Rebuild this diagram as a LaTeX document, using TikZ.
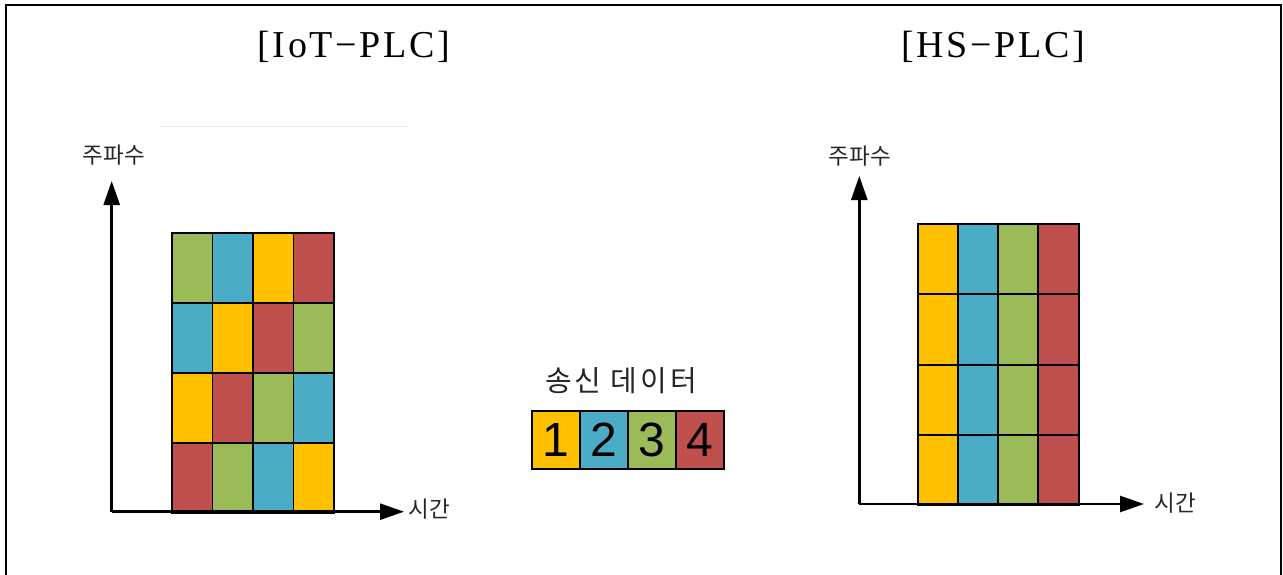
\documentclass[tikz,border=0pt]{standalone}
\usepackage{fontspec}
\setmainfont{Liberation Serif}
\newfontfamily\kr{Noto Sans CJK KR}
\newfontfamily\dig{Liberation Sans}
\usetikzlibrary{arrows.meta}
\definecolor{cy}{HTML}{FFC000}
\definecolor{cb}{HTML}{4BACC6}
\definecolor{cg}{HTML}{9BBB59}
\definecolor{cr}{HTML}{C0504D}
\tikzset{
  cell/.style={draw=black, line width=1.8pt, minimum width=40.5pt, minimum height=70pt, inner sep=0pt, anchor=north west},
  leg/.style={draw=black, line width=1.5pt, minimum width=48pt, minimum height=58pt, inner sep=0pt, anchor=north west, font=\dig\fontsize{48}{48}\selectfont},
  axis/.style={line width=2.6pt, -{Triangle[length=24pt,width=16pt]}},
  ttl/.style={font=\fontsize{38}{38}\selectfont\addfontfeature{LetterSpace=7}},
  axl/.style={font=\kr\fontsize{22.5}{22.5}\selectfont, text=black!85},
}
\begin{document}
\begin{tikzpicture}[x=1pt,y=-1pt]
\useasboundingbox (0,0) rectangle (1283,575);
\fill[white] (0,0) rectangle (1283,575);
% frame
\draw[line width=1.6pt] (6,576) -- (6,5) -- (1281,5) -- (1281,576);
% titles
\node[ttl] (t1) at (354,47) {[IoT−PLC]};
\node[ttl] (t2) at (993,47) {[HS−PLC]};
% faint line
\draw[black!8, line width=1pt] (160,127) -- (407,127);
% left grid
\foreach \r/\a/\b/\c/\d in {0/cg/cb/cy/cr, 1/cb/cy/cr/cg, 2/cy/cr/cg/cb, 3/cr/cg/cb/cy}{
  \foreach \k/\col in {0/\a,1/\b,2/\c,3/\d}{
    \node[cell, fill=\col] (L-\r-\k) at ({171+\k*40.5},{231.7+\r*70}) {};
  }
}
% right grid
\foreach \r in {0,1,2,3}{
  \foreach \k/\col in {0/cy,1/cb,2/cg,3/cr}{
    \node[cell, fill=\col] (R-\r-\k) at ({916.7+\k*40.2},{223.3+\r*70.2}) {};
  }
}
% left axes
\coordinate (LO) at (111.7,511.7);
\coordinate (LY) at (111.7,181);
\coordinate (LX) at (404,511.7);
\draw[axis] (LO) -- (LY);
\draw[axis] (LO) -- (LX);
\node[axl] (lf) at (114,155) {주파수};
\node[axl] (lt) at (429,509) {시간};
% right axes
\coordinate (RO) at (859.3,504);
\coordinate (RY) at (859.3,176);
\coordinate (RX) at (1144,504);
\draw[axis] (RO) -- (RY);
\draw[axis] (RO) -- (RX);
\node[axl] (rf) at (860,156) {주파수};
\node[axl] (rt) at (1175,503) {시간};
% legend
\node[font=\kr\fontsize{29}{29}\selectfont\addfontfeature{LetterSpace=10}, text=black!85] (lg) at (621,381) {송신 데이터};
\node[leg, fill=cy] (g1) at (531,410) {1};
\node[leg, fill=cb] (g2) at (579,410) {2};
\node[leg, fill=cg] (g3) at (627,410) {3};
\node[leg, fill=cr] (g4) at (675,410) {4};
\end{tikzpicture}
\end{document}
